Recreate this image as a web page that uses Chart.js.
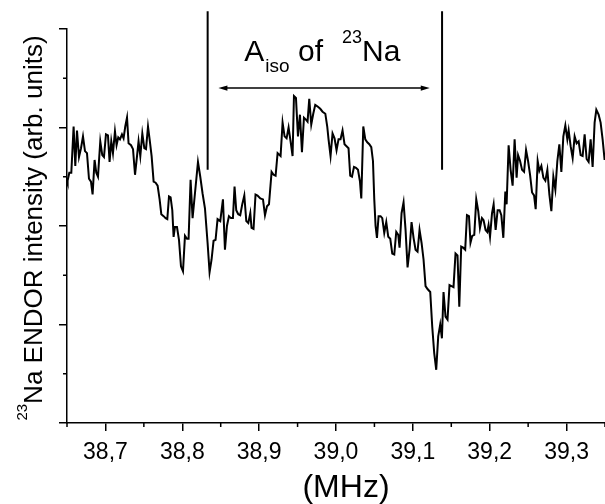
<!DOCTYPE html>
<html>
<head>
<meta charset="utf-8">
<script src="https://cdn.jsdelivr.net/npm/chart.js@4.4.0/dist/chart.umd.min.js"></script>
<style>
  html, body { margin: 0; padding: 0; background: #fff; }
  #wrap { width: 605px; height: 504px; }
</style>
</head>
<body>
<div id="wrap"><canvas id="chart" width="605" height="504"></canvas></div>
<script>
// ! DATA (frequency in MHz, ENDOR signal in arb. units)
const freq = [
  38.6500, 38.6508, 38.6530, 38.6556, 38.6586, 38.6608, 38.6630, 38.6656, 38.6682, 38.6708,
  38.6734, 38.6760, 38.6786, 38.6812, 38.6833, 38.6859, 38.6881, 38.6903, 38.6933, 38.6959,
  38.6981, 38.7007, 38.7033, 38.7054, 38.7076, 38.7098, 38.7124, 38.7145, 38.7167, 38.7189,
  38.7215, 38.7236, 38.7258, 38.7281, 38.7301, 38.7333, 38.7359, 38.7385, 38.7411, 38.7431,
  38.7454, 38.7480, 38.7506, 38.7528, 38.7554, 38.7575, 38.7601, 38.7627, 38.7653, 38.7679,
  38.7705, 38.7727, 38.7757, 38.7783, 38.7805, 38.7827, 38.7848, 38.7870, 38.7887, 38.7905,
  38.7931, 38.7957, 38.7983, 38.8009, 38.8035, 38.8061, 38.8082, 38.8108, 38.8134, 38.8204,
  38.8234, 38.8264, 38.8295, 38.8329, 38.8355, 38.8381, 38.8407, 38.8433, 38.8459, 38.8494,
  38.8529, 38.8555, 38.8581, 38.8607, 38.8633, 38.8659, 38.8680, 38.8702, 38.8728, 38.8754,
  38.8780, 38.8807, 38.8833, 38.8859, 38.8885, 38.8901, 38.8927, 38.8953, 38.8979, 38.9015,
  38.9050, 38.9076, 38.9102, 38.9128, 38.9162, 38.9188, 38.9214, 38.9240, 38.9279, 38.9305,
  38.9331, 38.9357, 38.9383, 38.9409, 38.9435, 38.9453, 38.9479, 38.9505, 38.9531, 38.9557,
  38.9583, 38.9609, 38.9630, 38.9652, 38.9678, 38.9704, 38.9730, 38.9765, 38.9795, 38.9825,
  38.9861, 38.9886, 38.9903, 38.9929, 38.9955, 38.9981, 39.0007, 39.0033, 39.0059, 39.0085,
  39.0111, 39.0137, 39.0163, 39.0185, 39.0208, 39.0234, 39.0260, 39.0286, 39.0312, 39.0329,
  39.0355, 39.0381, 39.0407, 39.0433, 39.0459, 39.0481, 39.0498, 39.0515, 39.0533, 39.0554,
  39.0580, 39.0602, 39.0628, 39.0654, 39.0680, 39.0706, 39.0732, 39.0758, 39.0784, 39.0810,
  39.0827, 39.0853, 39.0879, 39.0905, 39.0931, 39.0957, 39.0983, 39.1009, 39.1035, 39.1061,
  39.1087, 39.1113, 39.1139, 39.1165, 39.1191, 39.1226, 39.1252, 39.1278, 39.1304, 39.1330,
  39.1356, 39.1378, 39.1399, 39.1425, 39.1451, 39.1477, 39.1503, 39.1529, 39.1555, 39.1581,
  39.1604, 39.1629, 39.1655, 39.1681, 39.1704, 39.1730, 39.1750, 39.1773, 39.1799, 39.1825,
  39.1851, 39.1873, 39.1899, 39.1920, 39.1946, 39.1968, 39.1985, 39.2004, 39.2030, 39.2051,
  39.2077, 39.2103, 39.2129, 39.2151, 39.2177, 39.2203, 39.2220, 39.2246, 39.2272, 39.2298,
  39.2324, 39.2350, 39.2369, 39.2395, 39.2421, 39.2447, 39.2473, 39.2499, 39.2525, 39.2551,
  39.2577, 39.2598, 39.2624, 39.2646, 39.2672, 39.2698, 39.2724, 39.2750, 39.2776, 39.2802,
  39.2828, 39.2854, 39.2880, 39.2906, 39.2932, 39.2958, 39.2984, 39.3010, 39.3027, 39.3053,
  39.3079, 39.3105, 39.3131, 39.3157, 39.3183, 39.3209, 39.3235, 39.3261, 39.3287, 39.3313,
  39.3339, 39.3365, 39.3387, 39.3417, 39.3443, 39.3469, 39.3495,
];

const signal = [
  2.49, 2.46, 2.54, 2.54, 3.01, 2.61, 2.97, 2.70, 2.79, 2.91,
  2.76, 2.74, 2.48, 2.45, 2.32, 2.67, 2.54, 2.50, 2.86, 2.72,
  2.70, 2.93, 2.92, 2.65, 2.86, 2.74, 2.96, 2.82, 2.90, 2.88,
  2.93, 2.89, 3.01, 3.10, 2.84, 2.82, 2.78, 2.52, 2.71, 2.86,
  2.71, 2.94, 2.79, 2.78, 3.01, 2.88, 2.71, 2.45, 2.44, 2.41,
  2.27, 2.12, 2.10, 2.08, 2.07, 2.30, 2.29, 2.16, 1.89, 1.99,
  1.99, 1.86, 1.59, 1.54, 1.90, 1.87, 1.87, 2.47, 2.08, 2.65,
  2.50, 2.33, 2.18, 1.83, 1.53, 1.66, 1.85, 1.86, 2.07, 2.05,
  2.27, 1.76, 2.00, 2.10, 2.08, 2.08, 2.40, 2.16, 2.12, 2.11,
  2.22, 2.31, 2.05, 2.03, 2.13, 1.98, 1.97, 2.32, 2.31, 2.28,
  2.27, 2.11, 2.20, 2.22, 2.55, 2.52, 2.51, 2.74, 2.71, 3.05,
  2.91, 2.89, 3.00, 2.86, 2.71, 3.32, 3.30, 2.91, 3.13, 2.75,
  3.10, 3.08, 3.06, 3.29, 3.03, 3.14, 3.23, 3.21, 3.19, 3.16,
  3.14, 3.01, 2.88, 2.71, 2.94, 2.89, 2.77, 2.88, 2.88, 2.97,
  2.83, 2.81, 2.79, 2.51, 2.50, 2.60, 2.59, 2.57, 2.45, 2.28,
  3.01, 2.88, 2.85, 2.83, 2.80, 2.66, 2.27, 2.00, 1.88, 2.10,
  2.10, 2.08, 1.93, 2.04, 1.89, 1.87, 1.72, 1.71, 1.94, 1.91,
  1.78, 2.13, 2.24, 1.96, 1.58, 1.76, 2.04, 1.88, 1.76, 1.74,
  1.96, 1.83, 1.66, 1.39, 1.36, 1.33, 0.98, 0.71, 0.54, 0.88,
  1.00, 0.86, 1.33, 1.08, 1.05, 1.40, 1.39, 1.38, 1.72, 1.70,
  1.18, 1.79, 1.78, 1.76, 2.11, 2.10, 1.83, 1.90, 1.91, 2.27,
  2.15, 1.98, 2.08, 2.06, 1.96, 1.94, 2.01, 1.89, 2.13, 2.22,
  1.96, 2.16, 2.16, 2.11, 1.88, 2.35, 2.22, 2.82, 2.57, 2.41,
  2.88, 2.49, 2.72, 2.66, 2.57, 2.55, 2.77, 2.66, 2.52, 2.34,
  2.31, 2.17, 2.66, 2.56, 2.61, 2.49, 2.46, 2.57, 2.32, 2.15,
  2.50, 2.37, 2.66, 2.83, 2.55, 2.91, 3.02, 2.88, 2.97, 2.81,
  2.69, 2.91, 2.84, 2.86, 2.72, 2.71, 2.93, 2.68, 2.65, 2.88,
  2.60, 3.05, 3.18, 3.13, 3.05, 2.88, 2.67,
];

// ! AXIS TICKS
const xTicks = [38.7, 38.8, 38.9, 39.0, 39.1, 39.2, 39.3];
const xMinorTicks = [38.65, 38.75, 38.85, 38.95, 39.05, 39.15, 39.25, 39.35];
const yTicks = [0, 1, 2, 3, 4];
const yMinorTicks = [0.5, 1.5, 2.5, 3.5];

// ! MARKERS (hyperfine splitting)
const markerLeft = 38.833;
const markerRight = 39.138;
const markerSpan = [2.57, 4.18];
const arrowSpan = [38.847, 39.122];
const arrowLevel = 3.40;
const labelAnchor = [38.8807, 3.672];

const FONT = "'Liberation Sans', Arial, Helvetica, sans-serif";

const extras = {
  id: "extras",
  afterDraw(chart) {
    const { ctx, chartArea, scales } = chart;
    const x = scales.x;
    const y = scales.y;
    ctx.save();
    ctx.strokeStyle = "#000";
    ctx.fillStyle = "#000";

    // minor ticks
    ctx.lineWidth = 1.5;
    ctx.beginPath();
    yMinorTicks.forEach((v) => {
      const py = y.getPixelForValue(v);
      ctx.moveTo(chartArea.left - 4, py);
      ctx.lineTo(chartArea.left, py);
    });
    xMinorTicks.forEach((v) => {
      const px = x.getPixelForValue(v);
      ctx.moveTo(px, chartArea.bottom);
      ctx.lineTo(px, chartArea.bottom + 4);
    });
    ctx.stroke();

    // vertical marker lines
    ctx.lineWidth = 2;
    ctx.beginPath();
    [markerLeft, markerRight].forEach((v) => {
      const px = x.getPixelForValue(v);
      ctx.moveTo(px, y.getPixelForValue(markerSpan[0]));
      ctx.lineTo(px, y.getPixelForValue(markerSpan[1]));
    });
    ctx.stroke();

    // double arrow
    const ax1 = x.getPixelForValue(arrowSpan[0]);
    const ax2 = x.getPixelForValue(arrowSpan[1]);
    const ay = y.getPixelForValue(arrowLevel);
    ctx.lineWidth = 1.5;
    ctx.beginPath();
    ctx.moveTo(ax1 + 4, ay);
    ctx.lineTo(ax2 - 4, ay);
    ctx.stroke();
    ctx.beginPath();
    ctx.moveTo(ax1, ay);
    ctx.lineTo(ax1 + 9, ay - 2.6);
    ctx.lineTo(ax1 + 9, ay + 2.6);
    ctx.closePath();
    ctx.moveTo(ax2, ay);
    ctx.lineTo(ax2 - 9, ay - 2.6);
    ctx.lineTo(ax2 - 9, ay + 2.6);
    ctx.closePath();
    ctx.fill();

    // label "A_iso of 23Na"
    let cx = x.getPixelForValue(labelAnchor[0]);
    const base = y.getPixelForValue(labelAnchor[1]);
    ctx.textBaseline = "alphabetic";
    ctx.textAlign = "left";
    ctx.font = `30px ${FONT}`;
    ctx.fillText("A", cx, base);
    cx += ctx.measureText("A").width + 1;
    ctx.font = `19px ${FONT}`;
    ctx.fillText("iso", cx, base + 11);
    cx += ctx.measureText("iso").width;
    ctx.font = `30px ${FONT}`;
    ctx.fillText(" of", cx, base);
    cx += ctx.measureText(" of").width + 19;
    ctx.font = `18px ${FONT}`;
    ctx.fillText("23", cx, base - 18);
    cx += ctx.measureText("23").width;
    ctx.font = `30px ${FONT}`;
    ctx.fillText("Na", cx, base);

    // x axis title
    ctx.font = `32px ${FONT}`;
    ctx.textAlign = "center";
    ctx.textBaseline = "middle";
    ctx.fillText("(MHz)", (chartArea.left + chartArea.right) / 2 + 10, 488);

    // y axis title with superscript
    ctx.textAlign = "left";
    ctx.textBaseline = "alphabetic";
    const supText = "23";
    const mainText = "Na ENDOR intensity (arb. units)";
    ctx.font = `15px ${FONT}`;
    const supW = ctx.measureText(supText).width;
    ctx.font = `26px ${FONT}`;
    const mainW = ctx.measureText(mainText).width;
    const total = supW + mainW;
    ctx.translate(42, (chartArea.top + chartArea.bottom) / 2 + 2);
    ctx.rotate(-Math.PI / 2);
    ctx.font = `15px ${FONT}`;
    ctx.fillText(supText, -total / 2, -15);
    ctx.font = `26px ${FONT}`;
    ctx.fillText(mainText, -total / 2 + supW, 0);

    ctx.restore();
  },
};

new Chart(document.getElementById("chart"), {
  type: "line",
  data: {
    datasets: [
      {
        data: freq.map((f, i) => ({ x: f, y: signal[i] })),
        borderColor: "#000",
        borderWidth: 2,
        pointRadius: 0,
        tension: 0,
        fill: false,
      },
    ],
  },
  options: {
    responsive: false,
    animation: false,
    events: [],
    layout: { padding: { top: 29, right: 0, left: 0, bottom: 0 } },
    plugins: { legend: { display: false }, tooltip: { enabled: false } },
    scales: {
      x: {
        type: "linear",
        min: 38.65,
        max: 39.35,
        afterBuildTicks: (axis) => {
          axis.ticks = xTicks.map((v) => ({ value: v }));
        },
        afterFit: (axis) => {
          axis.height = 81;
        },
        border: { display: true, color: "#000", width: 1.5 },
        grid: { drawOnChartArea: false, drawTicks: true, tickLength: 8, color: "#000", lineWidth: 1.5 },
        ticks: {
          color: "#000",
          padding: 8,
          maxRotation: 0,
          font: { family: FONT, size: 23 },
          callback: (v) => v.toFixed(1).replace(".", ","),
        },
      },
      y: {
        type: "linear",
        min: 0,
        max: 4,
        afterBuildTicks: (axis) => {
          axis.ticks = yTicks.map((v) => ({ value: v }));
        },
        afterFit: (axis) => {
          axis.width = 67;
        },
        border: { display: true, color: "#000", width: 1.5 },
        grid: { drawOnChartArea: false, drawTicks: true, tickLength: 8, color: "#000", lineWidth: 1.5 },
        ticks: { display: false },
      },
    },
  },
  plugins: [extras],
});
</script>
</body>
</html>
